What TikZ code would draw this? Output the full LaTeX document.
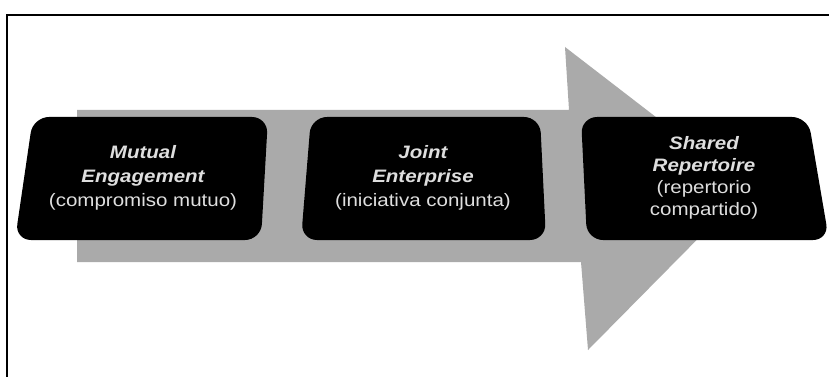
\documentclass[tikz,border=0pt]{standalone}
\usepackage{fontspec}
\setmainfont{Liberation Sans}
\newfontfamily\stagefont[FakeStretch=1.14]{Liberation Sans}
\definecolor{arrowgray}{RGB}{170,170,170}
\definecolor{txtgray}{RGB}{222,222,222}
\newcommand{\boxtitle}[1]{{\bfseries\itshape #1}}
\newcommand{\boxsub}[1]{{#1}}
\tikzset{
  stagebox/.style={fill=black, rounded corners=16pt},
  stagetext/.style={text=txtgray, align=center, inner sep=0pt},
}
\begin{document}
\begin{tikzpicture}[x=1pt,y=-1pt]
\useasboundingbox (0,0) rectangle (829,377);
\fill[white] (0,0) rectangle (829,377);
\draw[line width=1.3pt] (7,377) -- (7,15) -- (829,15);
% big arrow
\fill[arrowgray] (77,110) -- (569,110) -- (565,47) -- (748,188) -- (588,350) -- (581,262) -- (77,262) -- cycle;
% boxes
\fill[stagebox] (33,117) -- (268,117) -- (261,240) -- (15,240) -- cycle;
\fill[stagebox] (311,117) -- (540,117) -- (546,240) -- (301,240) -- cycle;
\fill[stagebox] (581,117) -- (808,117) -- (829,240) -- (587,240) -- cycle;
% texts
\node[stagetext, font=\stagefont\fontsize{18}{24}\selectfont] (me) at (143,177.5) {\boxtitle{Mutual}\\\boxtitle{Engagement}\\\boxsub{(compromiso mutuo)}};
\node[stagetext, font=\stagefont\fontsize{18}{24}\selectfont] (je) at (423,177.5) {\boxtitle{Joint}\\\boxtitle{Enterprise}\\\boxsub{(iniciativa conjunta)}};
\node[stagetext, font=\stagefont\fontsize{18}{22}\selectfont] (sr) at (704,178) {\boxtitle{Shared}\\\boxtitle{Repertoire}\\\boxsub{(repertorio}\\\boxsub{compartido)}};
\end{tikzpicture}
\end{document}
